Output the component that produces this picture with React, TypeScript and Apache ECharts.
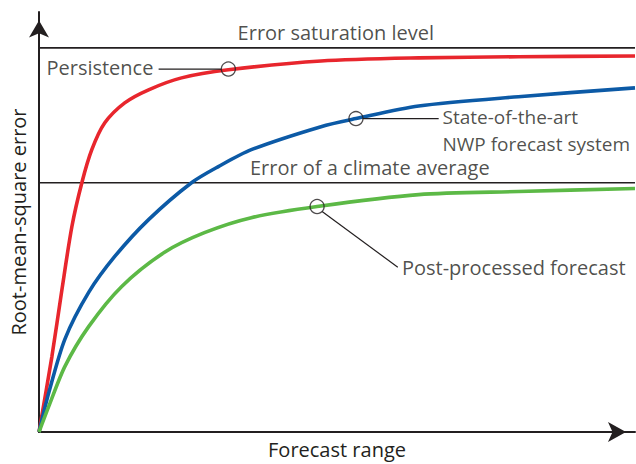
import React, { useEffect, useRef } from "react";
import * as echarts from "echarts";

const FONT = "'Open Sans', 'Noto Sans', sans-serif";
const INK = "#231f20";

// x: forecast range (0-100), y: RMSE relative to saturation level (1.0)
const persistenceX = [0, 2.17, 3.85, 5.52, 7.19, 8.86, 11.04, 14.38, 18.39, 23.91, 31.77, 47.32, 63.71, 80.43, 100];
const persistenceY = [0, 0.197, 0.371, 0.535, 0.649, 0.735, 0.805, 0.857, 0.891, 0.922, 0.943, 0.966, 0.974, 0.977, 0.979];

const nwpX = [0, 1.67, 4.35, 8.36, 12.71, 18.39, 25.59, 30.1, 35.62, 47.32, 53.18, 63.71, 80.43, 100];
const nwpY = [0, 0.104, 0.242, 0.364, 0.457, 0.553, 0.649, 0.691, 0.735, 0.795, 0.816, 0.849, 0.873, 0.896];

const postX = [0, 1.67, 4.35, 8.36, 13.88, 21.07, 27.76, 35.62, 46.66, 63.71, 80.43, 100];
const postY = [0, 0.068, 0.171, 0.275, 0.379, 0.468, 0.519, 0.558, 0.587, 0.618, 0.626, 0.634];

const saturationLevel = 1.0;
const climateLevel = 0.649;

const yMax = 1.0935;
const xMax = 100;

const markerX = [31.77, 53.18, 46.66];
const markerY = [0.945, 0.816, 0.587];

const zip = (xs: number[], ys: number[]) => xs.map((x, i) => [x, ys[i]]);

export default function App() {
  const ref = useRef<HTMLDivElement>(null);
  useEffect(() => {
    if (!ref.current) return;
    const chart = echarts.init(ref.current, undefined, { renderer: "svg" });
    const textStyle = { fontFamily: FONT, fontSize: 20, color: INK };
    const labelScatter = (x: number, y: number, text: string, position: any, extra: any = {}) => ({
      type: "scatter",
      symbolSize: 0,
      silent: true,
      z: 5,
      data: [[x, y]],
      label: {
        show: true,
        position,
        distance: 0,
        formatter: text,
        ...textStyle,
        ...extra,
      },
    });
    const leader = (pts: number[][]) => ({
      type: "line",
      data: pts,
      showSymbol: false,
      silent: true,
      lineStyle: { color: INK, width: 1.2 },
      z: 3,
    });
    const curve = (xs: number[], ys: number[], color: string) => ({
      type: "line",
      data: zip(xs, ys),
      smooth: 0.28,
      showSymbol: false,
      silent: true,
      lineStyle: { color, width: 3.6 },
      z: 2,
    });
    chart.setOption({
      animation: false,
      backgroundColor: "#ffffff",
      grid: { left: 37, right: 1, top: 12, bottom: 31 },
      xAxis: {
        type: "value",
        min: 0,
        max: xMax,
        name: "Forecast range",
        nameLocation: "middle",
        nameGap: 7,
        nameTextStyle: { ...textStyle, verticalAlign: "top" },
        axisLine: {
          show: true,
          lineStyle: { color: INK, width: 2 },
          symbol: ["none", "arrow"],
          symbolSize: [15, 18],
          symbolOffset: [0, -9],
        },
        axisTick: { show: false },
        axisLabel: { show: false },
        splitLine: { show: false },
      },
      yAxis: {
        type: "value",
        min: 0,
        max: yMax,
        name: "Root-mean-square error",
        nameLocation: "middle",
        nameGap: 11,
        nameRotate: 90,
        nameTextStyle: { ...textStyle },
        axisLine: {
          show: true,
          lineStyle: { color: INK, width: 2 },
          symbol: ["none", "arrow"],
          symbolSize: [15, 17],
          symbolOffset: [0, -8.5],
        },
        axisTick: { show: false },
        axisLabel: { show: false },
        splitLine: { show: false },
      },
      series: [
        {
          type: "line",
          data: [[0, saturationLevel], [xMax, saturationLevel]],
          showSymbol: false,
          silent: true,
          lineStyle: { color: INK, width: 1.6 },
          z: 1,
        },
        {
          type: "line",
          data: [[0, climateLevel], [xMax, climateLevel]],
          showSymbol: false,
          silent: true,
          lineStyle: { color: INK, width: 1.6 },
          z: 1,
        },
        curve(persistenceX, persistenceY, "#e8262d"),
        curve(nwpX, nwpY, "#0c5aa6"),
        curve(postX, postY, "#5cb946"),
        leader([[20.07, 0.945], [30.6, 0.945]]),
        leader([[54.35, 0.816], [67.06, 0.816]]),
        leader([[47.5, 0.574], [60.2, 0.429]]),
        {
          type: "scatter",
          data: zip(markerX, markerY),
          symbol: "circle",
          symbolSize: 14,
          silent: true,
          itemStyle: { color: "rgba(0,0,0,0)", borderColor: INK, borderWidth: 1.3 },
          z: 4,
        },
        labelScatter(49.8, 1.039, "Error saturation level", "inside"),
        labelScatter(55.5, 0.688, "Error of a climate average", "inside"),
        labelScatter(19.2, 0.95, "Persistence", "left"),
        labelScatter(67.7, 0.82, "State-of-the-art", "right", { fontSize: 19, lineHeight: 20 }),
        labelScatter(67.7, 0.751, "NWP forecast system", "right", { fontSize: 19, lineHeight: 20 }),
        labelScatter(60.9, 0.429, "Post-processed forecast", "right"),
      ],
    });
    return () => chart.dispose();
  }, []);
  return (
    <div
      ref={ref}
      style={{ position: "fixed", left: 0, top: 0, width: 636, height: 464, background: "#fff" }}
    />
  );
}
